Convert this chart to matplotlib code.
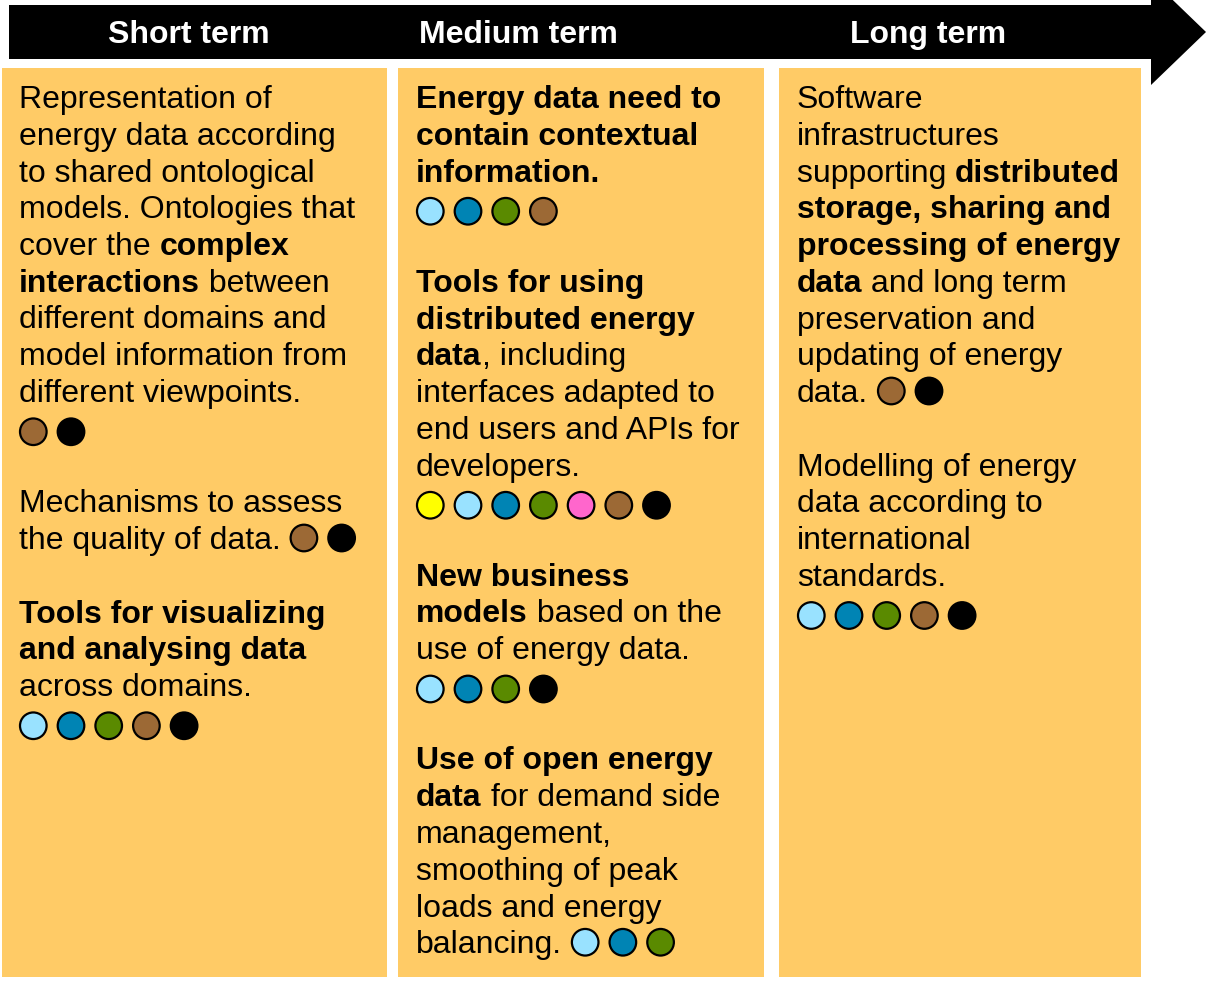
import matplotlib
matplotlib.use("Agg")
import matplotlib.pyplot as plt
from matplotlib.patches import Rectangle, Polygon, Circle

# ---------------- data ----------------
headers = ["Short term", "Medium term", "Long term"]

COLORS = {
    "Y": "#FFFF00",   # yellow
    "L": "#99E2FF",   # light blue
    "B": "#0084B4",   # blue
    "G": "#5A8A00",   # green
    "P": "#FF66CC",   # pink
    "N": "#9C6935",   # brown
    "K": "#000000",   # black
}

# Each line: list of (text, bold) runs, optional trailing circle codes.
# None = blank line; ([], codes) = a row of circles only.
short_term = [
    ([("Representation of", 0)], ""),
    ([("energy data according", 0)], ""),
    ([("to shared ontological", 0)], ""),
    ([("models. Ontologies that", 0)], ""),
    ([("cover the ", 0), ("complex", 1)], ""),
    ([("interactions", 1), (" between", 0)], ""),
    ([("different domains and", 0)], ""),
    ([("model information from", 0)], ""),
    ([("different viewpoints.", 0)], ""),
    ([], "NK"),
    None,
    ([("Mechanisms to assess", 0)], ""),
    ([("the quality of data.", 0)], "NK"),
    None,
    ([("Tools for visualizing", 1)], ""),
    ([("and analysing data", 1)], ""),
    ([("across domains.", 0)], ""),
    ([], "LBGNK"),
]

medium_term = [
    ([("Energy data need to", 1)], ""),
    ([("contain contextual", 1)], ""),
    ([("information.", 1)], ""),
    ([], "LBGN"),
    None,
    ([("Tools for using", 1)], ""),
    ([("distributed energy", 1)], ""),
    ([("data", 1), (", including", 0)], ""),
    ([("interfaces adapted to", 0)], ""),
    ([("end users and APIs for", 0)], ""),
    ([("developers.", 0)], ""),
    ([], "YLBGPNK"),
    None,
    ([("New business", 1)], ""),
    ([("models", 1), (" based on the", 0)], ""),
    ([("use of energy data.", 0)], ""),
    ([], "LBGK"),
    None,
    ([("Use of open energy", 1)], ""),
    ([("data", 1), (" for demand side", 0)], ""),
    ([("management,", 0)], ""),
    ([("smoothing of peak", 0)], ""),
    ([("loads and energy", 0)], ""),
    ([("balancing.", 0)], "LBG"),
]

long_term = [
    ([("Software", 0)], ""),
    ([("infrastructures", 0)], ""),
    ([("supporting ", 0), ("distributed", 1)], ""),
    ([("storage, sharing and", 1)], ""),
    ([("processing of energy", 1)], ""),
    ([("data", 1), (" and long term", 0)], ""),
    ([("preservation and", 0)], ""),
    ([("updating of energy", 0)], ""),
    ([("data.", 0)], "NK"),
    None,
    ([("Modelling of energy", 0)], ""),
    ([("data according to", 0)], ""),
    ([("international", 0)], ""),
    ([("standards.", 0)], ""),
    ([], "LBGNK"),
]

columns = [short_term, medium_term, long_term]

# ---------------- layout ----------------
W, H = 1206, 982
DPI = 100
FS = 23.0  # pt (~32 px)
FONT = "Liberation Sans"
BOX_COLOR = "#FFCB66"

col_boxes = [(2, 387), (398, 764), (779, 1141)]
header_x = [189, 518, 928]
text_x = [19, 416, 797]
top_y, bot_y = 68, 977
line0 = 97.0
line_h = 36.75
r = 13.3
dot_step = 37.7

fig = plt.figure(figsize=(W / DPI, H / DPI), dpi=DPI)
ax = fig.add_axes([0, 0, 1, 1])
ax.set_xlim(0, W)
ax.set_ylim(H, 0)
ax.axis("off")
fig.patch.set_facecolor("white")

# arrow
arrow = Polygon([(9, 5), (1151, 5), (1151, -21), (1206, 32), (1151, 85),
                 (1151, 59), (9, 59)], closed=True, facecolor="black",
                edgecolor="none")
ax.add_patch(arrow)
for hx, ht in zip(header_x, headers):
    ax.text(hx, 43, ht, color="white", fontsize=FS, fontweight="bold",
            family=FONT, ha="center", va="baseline")

# boxes
for x0, x1 in col_boxes:
    ax.add_patch(Rectangle((x0, top_y), x1 - x0, bot_y - top_y,
                           facecolor=BOX_COLOR, edgecolor="none"))

renderer = fig.canvas.get_renderer()
space_t = ax.text(0, 0, "a a", fontsize=FS, family=FONT)
aa_t = ax.text(0, 0, "aa", fontsize=FS, family=FONT)
space_w = (space_t.get_window_extent(renderer).width
           - aa_t.get_window_extent(renderer).width)
space_t.remove()
aa_t.remove()


def draw_dots(x_first, y, codes):
    for i, c in enumerate(codes):
        ax.add_patch(Circle((x_first + i * dot_step, y), r,
                            facecolor=COLORS[c], edgecolor="black",
                            linewidth=1.6, zorder=3))


for ci, col in enumerate(columns):
    x0 = text_x[ci]
    for k, item in enumerate(col):
        if item is None:
            continue
        runs, codes = item
        yc = line0 + k * line_h
        if not runs:
            draw_dots(x0 + r + 1, yc + 4, codes)
            continue
        x = x0
        for txt, bold in runs:
            t = ax.text(x, yc + 11, txt, fontsize=FS, family=FONT,
                        fontweight="bold" if bold else "normal",
                        ha="left", va="baseline", color="black")
            x += t.get_window_extent(renderer).width
        if codes:
            draw_dots(x + space_w + r + 1, yc, codes)

fig.savefig("out.png", dpi=DPI, facecolor="white")
